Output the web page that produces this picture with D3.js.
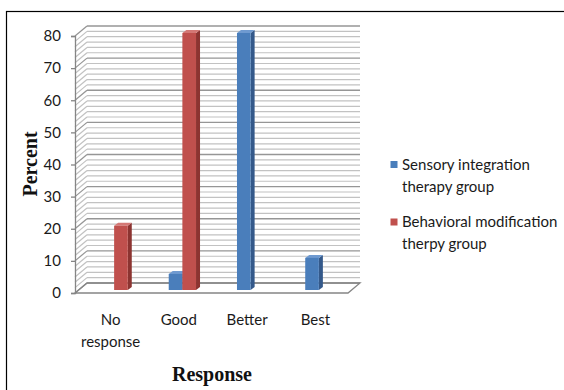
<!DOCTYPE html>
<html>
<head>
<meta charset="utf-8">
<script src="https://cdn.jsdelivr.net/npm/d3@7"></script>
<style>
  html, body { margin: 0; padding: 0; background: #fff; }
  svg { display: block; }
</style>
</head>
<body>
<svg id="chart" width="564" height="390"></svg>
<script>
// Response categories and percentages for each therapy group
const categories = ["No response", "Good", "Better", "Best"];
const sensoryValues = [0, 5, 80, 10];
const behavioralValues = [20, 80, 0, 0];
const yTickValues = [0, 10, 20, 30, 40, 50, 60, 70, 80];
const seriesNames = ["Sensory integration therapy group", "Behavioral modification therpy group"];
const legendLines = [["Sensory integration", "therapy group"], ["Behavioral modification", "therpy group"]];

const colors = [
  { front: "#4a7ebb", side: "#34598a", top: "#6f9ad0" },
  { front: "#c0504d", side: "#8c3431", top: "#d47875" }
];

const labelFont = "Lato, 'Open Sans', sans-serif";
const titleFont = "'Liberation Serif', 'Times New Roman', serif";

const svg = d3.select("#chart");

// frame (left and top edges only are visible inside the window)
svg.append("rect")
  .attr("x", 6.5).attr("y", 11.5)
  .attr("width", 600).attr("height", 400)
  .attr("fill", "none").attr("stroke", "#000").attr("stroke-width", 1.2);

// front plane of the 3D plot area
const x0 = 75, x1 = 348, yBottom = 293, yTop = 36;
const depthX = 12, depthY = -10;           // wall / floor depth offset
const barShiftX = 5, barShiftY = -3;       // bars sit midway in the depth
const barDX = 4, barDY = -3;               // bar thickness

const y = d3.scaleLinear().domain([0, 80]).range([yBottom, yTop]);
const x = d3.scaleBand().domain(categories).range([x0, x1]).paddingInner(0).paddingOuter(0);

// gridlines on the back wall and hatching on the side wall
const minorStep = 10 / 6;
const gridValues = d3.range(0, 80 + 1e-6, minorStep);
const grid = svg.append("g");
gridValues.forEach(v => {
  const isMajor = Math.abs(v / 10 - Math.round(v / 10)) < 1e-6;
  const yy = y(v);
  const stroke = isMajor ? "#969696" : "#c2c2c2";
  const sw = isMajor ? 1.3 : 1.2;
  grid.append("line")
    .attr("x1", x0 + depthX).attr("x2", x1 + depthX)
    .attr("y1", yy + depthY).attr("y2", yy + depthY)
    .attr("stroke", stroke).attr("stroke-width", sw);
  grid.append("line")
    .attr("x1", x0).attr("y1", yy)
    .attr("x2", x0 + depthX).attr("y2", yy + depthY)
    .attr("stroke", stroke).attr("stroke-width", sw);
});

// floor outline
const floor = [
  [x0, yBottom], [x1, yBottom], [x1 + depthX, yBottom + depthY], [x0 + depthX, yBottom + depthY]
];
svg.append("path")
  .attr("d", d3.line()(floor) + "Z")
  .attr("fill", "none").attr("stroke", "#858585").attr("stroke-width", 1.3);

// y axis on the front plane
const yAxis = d3.axisLeft(y).tickValues(yTickValues).tickSize(4).tickPadding(10);
const yAxisG = svg.append("g").attr("transform", `translate(${x0},0)`).call(yAxis);
yAxisG.select(".domain").attr("stroke", "#858585").attr("stroke-width", 1.3);
yAxisG.selectAll(".tick line").attr("stroke", "#858585").attr("stroke-width", 1.3);
yAxisG.selectAll(".tick text")
  .attr("font-family", labelFont)
  .attr("font-size", 15).attr("fill", "#1a1a1a");

// 3D bars
const barW = x.bandwidth() * 0.2;
const seriesValues = [sensoryValues, behavioralValues];
const bars = svg.append("g");
categories.forEach((cat, ci) => {
  const center = x(cat) + x.bandwidth() / 2 + barShiftX;
  seriesValues.forEach((vals, si) => {
    const v = vals[ci];
    if (!v) return;
    const bx0 = center - barW + si * barW;
    const bx1 = bx0 + barW;
    const yt = y(v) + barShiftY;
    const yb = y(0) + barShiftY;
    const c = colors[si];
    // side face
    bars.append("path")
      .attr("d", d3.line()([[bx1, yt], [bx1 + barDX, yt + barDY], [bx1 + barDX, yb + barDY], [bx1, yb]]) + "Z")
      .attr("fill", c.side);
    // top face
    bars.append("path")
      .attr("d", d3.line()([[bx0, yt], [bx0 + barDX, yt + barDY], [bx1 + barDX, yt + barDY], [bx1, yt]]) + "Z")
      .attr("fill", c.top);
    // front face
    bars.append("rect")
      .attr("x", bx0).attr("y", yt)
      .attr("width", barW).attr("height", yb - yt)
      .attr("fill", c.front);
  });
});

// category labels, wrapped onto two lines where needed
const catLabels = svg.append("g")
  .attr("font-family", labelFont)
  .attr("font-size", 15).attr("fill", "#1a1a1a").attr("text-anchor", "middle");
categories.forEach(cat => {
  const cx = x(cat) + x.bandwidth() / 2 + 1.5;
  const words = cat.split(" ");
  words.forEach((w, i) => {
    catLabels.append("text")
      .attr("x", cx).attr("y", 325 + i * 22)
      .text(w);
  });
});

// axis titles
svg.append("text")
  .attr("transform", "translate(37,164) rotate(-90)")
  .attr("text-anchor", "middle")
  .attr("font-family", titleFont)
  .attr("font-weight", "bold").attr("font-size", 20).attr("fill", "#111")
  .text("Percent");

svg.append("text")
  .attr("x", 212).attr("y", 381)
  .attr("text-anchor", "middle")
  .attr("font-family", titleFont)
  .attr("font-weight", "bold").attr("font-size", 20).attr("fill", "#111")
  .text("Response");

// legend
const legend = svg.append("g")
  .attr("font-family", labelFont)
  .attr("font-size", 15).attr("fill", "#1a1a1a");
const legendTop = [169.5, 227];
seriesNames.forEach((name, i) => {
  const by = legendTop[i];
  legend.append("rect")
    .attr("x", 390.5).attr("y", by - 8.5)
    .attr("width", 7).attr("height", 7)
    .attr("fill", colors[i].front);
  legendLines[i].forEach((ln, j) => {
    legend.append("text")
      .attr("x", 402).attr("y", by + j * 22)
      .text(ln);
  });
});
</script>
</body>
</html>
